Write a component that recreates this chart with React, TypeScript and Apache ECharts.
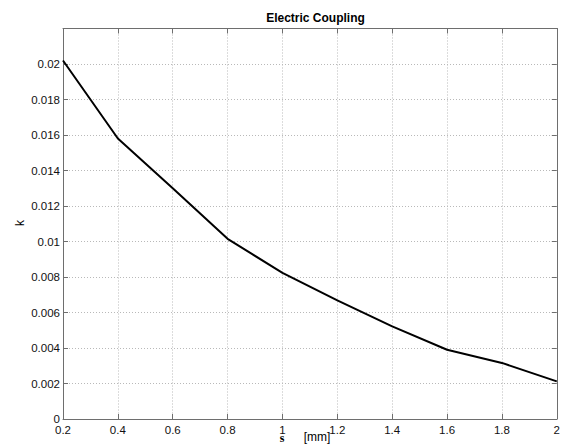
import React, { useEffect, useRef } from "react";
import * as echarts from "echarts";

const sValues = [0.2, 0.4, 0.6, 0.8, 1.0, 1.2, 1.4, 1.6, 1.8, 2.0];
const kValues = [0.0202, 0.0158, 0.0130, 0.01015, 0.00823, 0.00668, 0.00522, 0.0039, 0.00316, 0.00212];

const titleText = "Electric Coupling";
const yName = "k";
const xNameVar = "s";
const xNameUnit = "[mm]";

const fmt = (v: number) => String(parseFloat(v.toFixed(4)));

export default function App() {
  const ref = useRef<HTMLDivElement>(null);
  useEffect(() => {
    if (!ref.current) return;
    const chart = echarts.init(ref.current, null, { renderer: "svg" });
    const axisColor = "#6e6e6e";
    const font = "Liberation Sans, Arial, sans-serif";
    const labelStyle = { color: "#111", fontSize: 11.5, fontFamily: font };
    const xBase = {
      type: "value",
      min: 0.2,
      max: 2,
      interval: 0.2,
      axisLine: { show: true, onZero: false, lineStyle: { color: axisColor, width: 1 } },
      axisTick: { show: true, inside: true, length: 5, lineStyle: { color: axisColor } },
    };
    const yBase = {
      type: "value",
      min: 0,
      max: 0.022,
      interval: 0.002,
      axisLine: { show: true, onZero: false, lineStyle: { color: axisColor, width: 1 } },
      axisTick: { show: true, inside: true, length: 5, lineStyle: { color: axisColor } },
    };
    chart.setOption({
      animation: false,
      backgroundColor: "#ffffff",
      title: {
        text: titleText,
        left: 310.5,
        textAlign: "center",
        top: 7,
        textStyle: { fontSize: 12, fontWeight: "bold", color: "#000", fontFamily: font },
      },
      grid: { left: 63, right: 5, top: 28.5, bottom: 25 },
      xAxis: [
        {
          ...xBase,
          position: "bottom",
          axisLabel: { ...labelStyle, margin: 5, formatter: (v: number) => fmt(v) },
          splitLine: { show: true, lineStyle: { color: "#b9b9b9", type: [1, 2], width: 1 } },
        },
        {
          ...xBase,
          position: "top",
          axisLabel: { show: false },
          splitLine: { show: false },
        },
      ],
      yAxis: [
        {
          ...yBase,
          position: "left",
          axisLabel: {
            ...labelStyle,
            margin: 3,
            showMaxLabel: false,
            formatter: (v: number) => fmt(v),
          },
          splitLine: { show: true, lineStyle: { color: "#b9b9b9", type: [1, 2], width: 1 } },
        },
        {
          ...yBase,
          position: "right",
          axisLabel: { show: false },
          splitLine: { show: false },
        },
      ],
      series: [
        {
          type: "line",
          data: sValues.map((s, i) => [s, kValues[i]]),
          showSymbol: false,
          lineStyle: { color: "#000", width: 2 },
          xAxisIndex: 0,
          yAxisIndex: 0,
        },
      ],
      graphic: [
        {
          type: "text",
          x: 20,
          y: 223,
          rotation: Math.PI / 2,
          style: {
            text: yName,
            fill: "#000",
            fontSize: 12,
            fontFamily: font,
            align: "center",
            verticalAlign: "middle",
          },
        },
        {
          type: "text",
          x: 282,
          y: 444,
          style: {
            text: xNameVar,
            fill: "#000",
            fontSize: 12,
            fontWeight: "bold",
            fontFamily: "Liberation Serif, serif",
            align: "center",
            verticalAlign: "bottom",
          },
        },
        {
          type: "text",
          x: 317,
          y: 437,
          style: {
            text: xNameUnit,
            fill: "#000",
            fontSize: 12,
            fontFamily: font,
            align: "center",
            verticalAlign: "middle",
          },
        },
      ],
    });
    return () => chart.dispose();
  }, []);
  return (
    <div
      ref={ref}
      style={{ position: "fixed", left: 0, top: 0, width: 563, height: 444, background: "#fff" }}
    />
  );
}
